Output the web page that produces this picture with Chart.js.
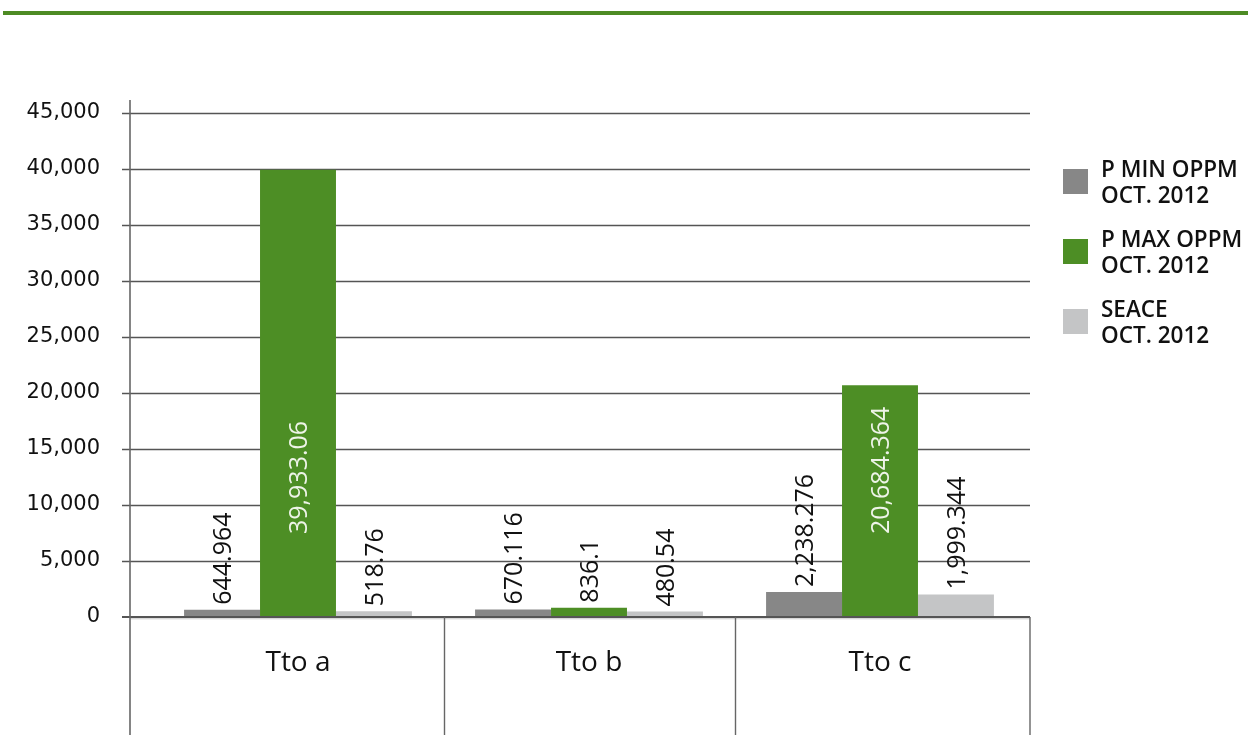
<!DOCTYPE html>
<html>
<head>
<meta charset="utf-8">
<script src="https://cdn.jsdelivr.net/npm/chart.js@4.4.1/dist/chart.umd.min.js"></script>
<style>
  html, body { margin: 0; padding: 0; background: #fff; }
  #wrap { position: relative; width: 1248px; height: 755px; overflow: hidden; }
  #rule { position: absolute; left: 3px; top: 11px; width: 1245px; height: 4px; background: #4d8b24; }
  #chart { position: absolute; left: 0; top: 0; }
  #legend { position: absolute; left: 1063px; top: 156px; display: flex; flex-direction: column; gap: 18px;
            font-family: "Open Sans", sans-serif; font-weight: 600; font-size: 22.5px; line-height: 26px; color: #111; }
  .item { display: flex; align-items: flex-start; }
  .sw { width: 25px; height: 25px; margin-top: 13px; margin-right: 13px; flex: none; }
</style>
</head>
<body>
<div id="wrap">
  <div id="rule"></div>
  <canvas id="chart" width="1248" height="755"></canvas>
  <div id="legend"></div>
</div>
<script>
// Treatments on the category axis
const categories = ['Tto a', 'Tto b', 'Tto c'];

// Series values
const pMinOppm = [644.964, 670.116, 2238.276];
const pMaxOppm = [39933.06, 836.1, 20684.364];
const seace    = [518.76, 480.54, 1999.344];

// Series names (two lines each in the legend)
const seriesNames = [
  ['P MIN OPPM', 'OCT. 2012'],
  ['P MAX OPPM', 'OCT. 2012'],
  ['SEACE', 'OCT. 2012']
];
const seriesColors = ['#878787', '#4d8e25', '#c4c5c6'];

// Value axis
const yMin = 0, yMax = 45000, yStep = 5000;

const fmt = v => v.toLocaleString('en-US', { maximumFractionDigits: 3 });

// Gridlines, axis line and the category separators under the baseline
const framePlugin = {
  id: 'frame',
  beforeDatasetsDraw(chart) {
    const { ctx, chartArea, scales: { y } } = chart;
    const axisX = 130, left = axisX - 8, right = chartArea.right + 4.5;
    ctx.save();
    ctx.strokeStyle = '#555555';
    ctx.lineWidth = 1.6;
    y.ticks.forEach(t => {
      if (t.value === 0) return;
      const py = Math.round(y.getPixelForValue(t.value)) + 0.5;
      ctx.beginPath(); ctx.moveTo(left, py); ctx.lineTo(right, py); ctx.stroke();
    });
    ctx.restore();
  },
  afterDatasetsDraw(chart) {
    const { ctx, chartArea, scales: { x, y } } = chart;
    const axisX = 130, left = axisX - 8, right = chartArea.right + 4.5;
    const zero = Math.round(y.getPixelForValue(0));
    const bottom = 735;
    ctx.save();
    // baseline
    ctx.strokeStyle = '#555555'; ctx.lineWidth = 2.2;
    ctx.beginPath(); ctx.moveTo(left, zero); ctx.lineTo(right, zero); ctx.stroke();
    ctx.strokeStyle = '#c9c9c9'; ctx.lineWidth = 1;
    ctx.beginPath(); ctx.moveTo(axisX, zero + 1.8); ctx.lineTo(right, zero + 1.8); ctx.stroke();
    // value axis line
    ctx.strokeStyle = '#666666'; ctx.lineWidth = 1.6;
    ctx.beginPath(); ctx.moveTo(axisX, 100); ctx.lineTo(axisX, bottom); ctx.stroke();
    // category separators
    ctx.lineWidth = 1.4;
    for (let i = 1; i < categories.length; i++) {
      const px = Math.round((x.getPixelForValue(i - 1) + x.getPixelForValue(i)) / 2) + 0.5;
      ctx.beginPath(); ctx.moveTo(px, zero); ctx.lineTo(px, bottom); ctx.stroke();
    }
    ctx.beginPath(); ctx.moveTo(right, zero); ctx.lineTo(right, bottom); ctx.stroke();
    ctx.restore();
  }
};

// Rotated value labels
const labelPlugin = {
  id: 'barLabels',
  afterDraw(chart) {
    const { ctx, scales: { y } } = chart;
    const zero = y.getPixelForValue(0);
    ctx.save();
    ctx.font = '25px "Open Sans"';
    ctx.textBaseline = 'middle';
    ctx.textAlign = 'left';
    chart.data.datasets.forEach((ds, di) => {
      chart.getDatasetMeta(di).data.forEach((bar, i) => {
        const text = fmt(ds.data[i]);
        const w = ctx.measureText(text).width;
        const h = bar.base - bar.y;
        let start, color;
        if (di === 1 && h > w + 100) {
          start = zero - 83; color = '#eef4e8';
        } else {
          start = bar.y - 5; color = '#111';
        }
        ctx.save();
        ctx.translate(bar.x + 2, start);
        ctx.rotate(-Math.PI / 2);
        ctx.fillStyle = color;
        ctx.fillText(text, 0, 0);
        ctx.restore();
      });
    });
    ctx.restore();
  }
};

const chart = new Chart(document.getElementById('chart'), {
  type: 'bar',
  data: {
    labels: categories,
    datasets: [
      { label: seriesNames[0].join(' '), data: pMinOppm, backgroundColor: seriesColors[0] },
      { label: seriesNames[1].join(' '), data: pMaxOppm, backgroundColor: seriesColors[1] },
      { label: seriesNames[2].join(' '), data: seace,    backgroundColor: seriesColors[2] }
    ]
  },
  options: {
    responsive: false,
    animation: false,
    events: [],
    layout: { padding: { top: 113, right: 222.5, bottom: 58, left: 0 } },
    datasets: { bar: { categoryPercentage: 0.783, barPercentage: 1.0, borderWidth: 0 } },
    plugins: { legend: { display: false }, tooltip: { enabled: false } },
    scales: {
      x: {
        grid: { display: false, drawTicks: false },
        border: { display: false },
        ticks: { color: '#111', font: { family: 'Open Sans', size: 28 }, padding: 29 },
        afterFit(s) { s.height = 80; }
      },
      y: {
        min: yMin, max: yMax,
        grid: { display: false, drawTicks: false },
        border: { display: false },
        ticks: {
          stepSize: yStep,
          color: '#111',
          font: { family: 'DejaVu Sans', size: 21 },
          padding: 52.5,
          callback: v => fmt(v)
        },
        afterFit(s) { s.width = 152.5; }
      }
    }
  },
  plugins: [framePlugin, labelPlugin]
});

// Legend built from the datasets
const legend = document.getElementById('legend');
chart.data.datasets.forEach((ds, i) => {
  const item = document.createElement('div');
  item.className = 'item';
  const sw = document.createElement('div');
  sw.className = 'sw';
  sw.style.background = ds.backgroundColor;
  const txt = document.createElement('div');
  seriesNames[i].forEach(line => {
    const d = document.createElement('div');
    d.textContent = line;
    txt.appendChild(d);
  });
  item.appendChild(sw);
  item.appendChild(txt);
  legend.appendChild(item);
});
</script>
</body>
</html>
